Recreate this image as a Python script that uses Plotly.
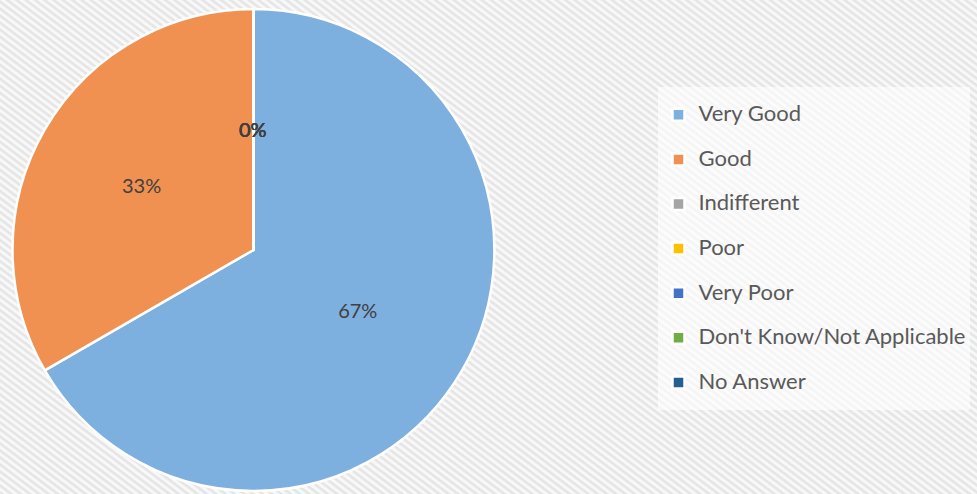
import base64
import plotly.graph_objects as go

# ---- data ----
categories = ["Very Good", "Good", "Indifferent", "Poor", "Very Poor",
              "Don't Know/Not Applicable", "No Answer"]
values = [2, 1, 0, 0, 0, 0, 0]
colors = ["#7DAFDF", "#F09152", "#A5A5A5", "#FFC000", "#4472C4", "#70AD47", "#255E91"]

W, H = 977, 494

# striped background (Excel-like pattern fill)
svg = (
    f"<svg xmlns='http://www.w3.org/2000/svg' width='{W}' height='{H}'>"
    "<defs><pattern id='p' width='6' height='5.6' patternUnits='userSpaceOnUse' "
    "patternTransform='rotate(37)'>"
    "<rect width='6' height='5.6' fill='#f8f8f8'/>"
    "<rect width='6' height='2.6' fill='#e5e5e5'/>"
    "</pattern></defs>"
    f"<rect width='{W}' height='{H}' fill='url(#p)'/></svg>"
)
bg_uri = "data:image/svg+xml;base64," + base64.b64encode(svg.encode()).decode()

legend_labels = [
    f"<span style='font-size:22px;baseline-shift:6px'>{c}</span>" for c in categories
]

dom_x = [0.0128, 0.506]
dom_y = [0.006, 0.982]

fig = go.Figure(
    go.Pie(
        labels=legend_labels,
        values=values,
        sort=False,
        direction="clockwise",
        rotation=0,
        marker=dict(colors=colors, line=dict(color="white", width=2.5)),
        texttemplate="%{percent:.0%}",
        textposition="inside",
        insidetextorientation="horizontal",
        textfont=dict(family="Lato, Open Sans, sans-serif", size=20, color="#404040"),
        domain=dict(x=dom_x, y=dom_y),
        hoverinfo="value+percent",
    )
)

# labels for zero-valued categories (Excel stacks them at the slice start)
total = sum(values)
zero_count = sum(1 for v in values if v == 0)
if zero_count:
    cx = (dom_x[0] + dom_x[1]) / 2
    cy = (dom_y[0] + dom_y[1]) / 2
    r_paper_y = (dom_y[1] - dom_y[0]) / 2
    for _ in range(zero_count):
        fig.add_annotation(
            x=cx, y=cy + r_paper_y * 0.5, xref="paper", yref="paper",
            xanchor="center", yanchor="middle",
            text=f"{0 / total:.0%}", showarrow=False,
            font=dict(family="Lato, Open Sans, sans-serif", size=20, color="#404040"),
        )

fig.update_layout(
    width=W, height=H,
    margin=dict(l=0, r=0, t=0, b=0),
    paper_bgcolor="rgba(0,0,0,0)",
    plot_bgcolor="rgba(0,0,0,0)",
    images=[dict(source=bg_uri, xref="paper", yref="paper", x=0, y=1,
                 sizex=1, sizey=1, sizing="stretch", layer="below",
                 xanchor="left", yanchor="top")],
    legend=dict(
        x=0.674, xanchor="left", y=0.496, yanchor="middle",
        bgcolor="rgba(255,255,255,0.6)",
        font=dict(family="Lato, Open Sans, sans-serif", size=32, color="#595959"),
        itemclick=False, itemdoubleclick=False,
    ),
    showlegend=True,
)

fig.write_html(
    "out.html",
    config={"displayModeBar": False},
    post_script="document.body.style.margin='0';document.body.style.overflow='hidden';",
)
